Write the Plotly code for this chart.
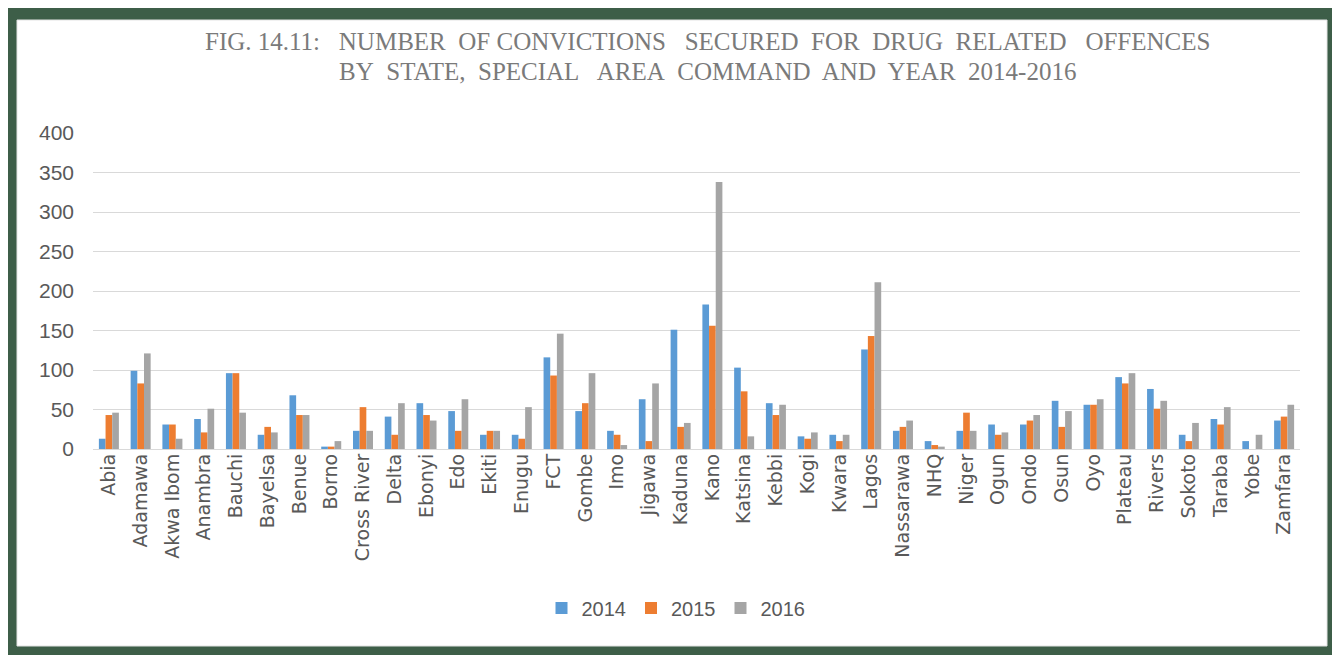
import plotly.graph_objects as go

states = ["Abia", "Adamawa", "Akwa Ibom", "Anambra", "Bauchi", "Bayelsa", "Benue", "Borno",
          "Cross River", "Delta", "Ebonyi", "Edo", "Ekiti", "Enugu", "FCT", "Gombe", "Imo",
          "Jigawa", "Kaduna", "Kano", "Katsina", "Kebbi", "Kogi", "Kwara", "Lagos", "Nassarawa",
          "NHQ", "Niger", "Ogun", "Ondo", "Osun", "Oyo", "Plateau", "Rivers", "Sokoto", "Taraba",
          "Yobe", "Zamfara"]

v2014 = [13, 99, 31, 38, 96, 18, 68, 3, 23, 41, 58, 48, 18, 18, 116, 48, 23, 63, 151, 183,
         103, 58, 16, 18, 126, 23, 10, 23, 31, 31, 61, 56, 91, 76, 18, 38, 10, 36]
v2015 = [43, 83, 31, 21, 96, 28, 43, 3, 53, 18, 43, 23, 23, 13, 93, 58, 18, 10, 28, 156,
         73, 43, 13, 10, 143, 28, 5, 46, 18, 36, 28, 56, 83, 51, 10, 31, 0, 41]
v2016 = [46, 121, 13, 51, 46, 21, 43, 10, 23, 58, 36, 63, 23, 53, 146, 96, 5, 83, 33, 338,
         16, 56, 21, 18, 211, 36, 3, 23, 21, 43, 48, 63, 96, 61, 33, 53, 18, 56]

years = ["2014", "2015", "2016"]
colors = ["#5B9BD5", "#ED7D31", "#A5A5A5"]
y_ticks = [0, 50, 100, 150, 200, 250, 300, 350, 400]

# page is drawn with the browser's default 8px body margin
OX, OY = 8, 8
W, H = 1332, 647
L, R, T, B = 85, 40, 125, 206
pw, ph = W - L - R, H - T - B


def px_x(p):
    return (p - OX - L) / pw


def px_y(p):
    return (H - B - (p - OY)) / ph


fig = go.Figure()
for name, vals, col in zip(years, [v2014, v2015, v2016], colors):
    fig.add_trace(go.Bar(x=states, y=vals, name=name, marker=dict(color=col, line=dict(width=0))))

fig.update_layout(
    width=W, height=H,
    margin=dict(l=L, r=R, t=T, b=B, pad=0),
    paper_bgcolor="#3d5e48",
    plot_bgcolor="rgba(0,0,0,0)",
    barmode="group",
    bargap=0.37,
    bargroupgap=0,
    showlegend=True,
    legend=dict(orientation="h", x=px_x(676), xanchor="center", y=px_y(608), yanchor="middle",
                font=dict(family="Liberation Sans, Arial", size=20, color="#595959"),
                bgcolor="rgba(0,0,0,0)", itemwidth=30, traceorder="normal"),
    font=dict(family="Liberation Sans", color="#595959"),
)

fig.update_yaxes(range=[0, 400], tickvals=y_ticks, showgrid=True, gridcolor="#d9d9d9", gridwidth=1,
                 zeroline=True, zerolinecolor="#d9d9d9", zerolinewidth=1, showline=False,
                 ticks="", ticklabelstandoff=18,
                 tickfont=dict(family="Liberation Sans, Arial", size=21, color="#595959"))
fig.update_xaxes(tickangle=-90, showline=False, ticks="", showgrid=False,
                 tickfont=dict(family="DejaVu Sans", size=19, color="#595959"))

# white panel inside the green frame
fig.add_shape(type="rect", xref="paper", yref="paper",
              x0=px_x(17), x1=px_x(1327), y0=px_y(646), y1=px_y(20),
              fillcolor="white", line=dict(color="#e3e3e3", width=1), layer="below")

title_lines = ["FIG. 14.11:   NUMBER  OF CONVICTIONS   SECURED  FOR  DRUG  RELATED   OFFENCES",
               "BY  STATE,  SPECIAL   AREA  COMMAND  AND  YEAR  2014-2016"]
for line, ypx in zip(title_lines, [41, 71]):
    fig.add_annotation(text=line.replace("  ", "&nbsp; "), xref="paper", yref="paper",
                       x=px_x(707), y=px_y(ypx), xanchor="center", yanchor="middle",
                       showarrow=False,
                       font=dict(family="Liberation Serif, Times New Roman", size=25, color="#7a7a7a"))

fig.write_html("out.html")
